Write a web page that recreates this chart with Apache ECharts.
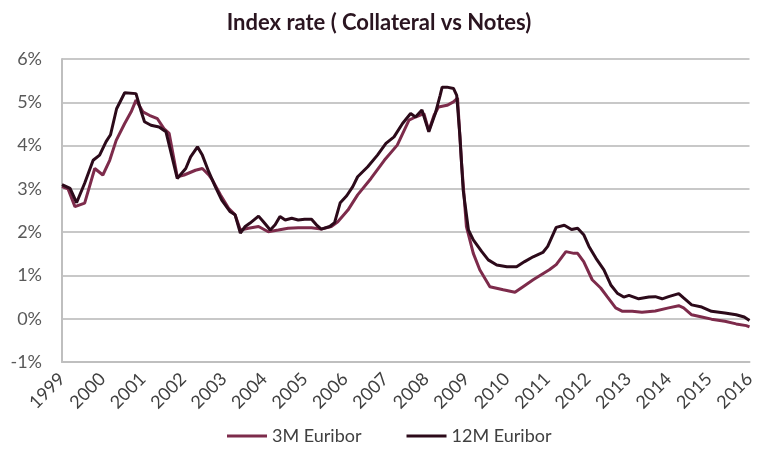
<!DOCTYPE html>
<html>
<head>
<meta charset="utf-8">
<script src="https://cdn.jsdelivr.net/npm/echarts@6/dist/echarts.min.js"></script>
<style>html,body{margin:0;padding:0;background:#fff}#c{width:758px;height:459px}</style>
</head>
<body>
<div id="c"></div>
<script>
var yearTicks = [1999,2000,2001,2002,2003,2004,2005,2006,2007,2008,2009,2010,2011,2012,2013,2014,2015,2016];
var seriesNames = ['3M Euribor', '12M Euribor'];

var t12 = [1999.00,1999.20,1999.36,1999.56,1999.77,1999.93,2000.09,2000.20,2000.35,2000.55,2000.83,2000.96,2001.04,2001.20,2001.40,2001.57,2001.85,2002.06,2002.18,2002.35,2002.47,2002.63,2002.79,2002.95,2003.16,2003.28,2003.41,2003.53,2003.65,2003.86,2003.98,2004.15,2004.27,2004.39,2004.52,2004.68,2004.84,2005.00,2005.17,2005.29,2005.41,2005.62,2005.74,2005.88,2006.04,2006.19,2006.31,2006.56,2006.80,2007.01,2007.21,2007.42,2007.62,2007.74,2007.90,2008.07,2008.23,2008.35,2008.40,2008.52,2008.68,2008.76,2008.84,2008.92,2009.05,2009.17,2009.38,2009.54,2009.75,2010.00,2010.24,2010.44,2010.65,2010.89,2011.01,2011.22,2011.42,2011.60,2011.75,2011.90,2012.03,2012.20,2012.40,2012.57,2012.73,2012.89,2013.02,2013.26,2013.51,2013.67,2013.84,2014.00,2014.25,2014.37,2014.57,2014.82,2015.06,2015.39,2015.67,2015.87,2016.00];
var v12 = [3.10,3.01,2.68,3.13,3.66,3.78,4.09,4.25,4.85,5.22,5.20,4.78,4.55,4.47,4.43,4.32,3.24,3.47,3.74,3.97,3.78,3.39,3.05,2.74,2.47,2.40,1.98,2.13,2.21,2.37,2.24,2.05,2.17,2.36,2.28,2.32,2.28,2.30,2.30,2.17,2.07,2.13,2.22,2.68,2.84,3.05,3.28,3.51,3.78,4.05,4.20,4.51,4.74,4.66,4.82,4.32,4.74,5.16,5.35,5.35,5.32,5.16,4.20,2.97,2.05,1.82,1.55,1.36,1.24,1.20,1.20,1.32,1.43,1.53,1.67,2.11,2.16,2.06,2.09,1.94,1.67,1.40,1.13,0.78,0.59,0.50,0.54,0.46,0.50,0.51,0.46,0.51,0.58,0.48,0.32,0.27,0.17,0.13,0.09,0.04,-0.04];

var t3 = [1999.00,1999.15,1999.32,1999.56,1999.81,2000.01,2000.18,2000.34,2000.55,2000.71,2000.83,2001.00,2001.16,2001.36,2001.52,2001.65,2001.85,2002.02,2002.30,2002.47,2002.63,2002.72,2002.92,2003.12,2003.28,2003.41,2003.61,2003.86,2004.10,2004.35,2004.59,2004.84,2005.17,2005.41,2005.66,2005.82,2006.07,2006.31,2006.64,2006.97,2007.29,2007.58,2007.74,2007.95,2008.07,2008.20,2008.31,2008.52,2008.68,2008.78,2008.88,2009.00,2009.17,2009.33,2009.58,2009.91,2010.20,2010.40,2010.65,2010.89,2011.05,2011.22,2011.46,2011.66,2011.75,2011.90,2012.11,2012.32,2012.48,2012.69,2012.86,2013.10,2013.34,2013.67,2014.00,2014.25,2014.37,2014.57,2014.82,2015.06,2015.39,2015.67,2015.92,2016.00];
var v3 = [3.05,3.00,2.59,2.67,3.47,3.32,3.66,4.12,4.51,4.78,5.05,4.78,4.70,4.62,4.39,4.28,3.28,3.32,3.43,3.47,3.32,3.20,2.86,2.55,2.40,2.05,2.09,2.13,2.01,2.05,2.09,2.10,2.10,2.07,2.13,2.24,2.51,2.86,3.24,3.66,4.01,4.59,4.66,4.74,4.34,4.70,4.89,4.93,5.01,5.10,3.59,2.13,1.51,1.13,0.74,0.67,0.61,0.74,0.90,1.04,1.13,1.25,1.55,1.51,1.51,1.32,0.90,0.71,0.51,0.25,0.17,0.17,0.15,0.18,0.25,0.30,0.25,0.09,0.04,-0.01,-0.06,-0.12,-0.16,-0.19];

function pairs(t, v) { return t.map(function (x, i) { return [x, v[i]]; }); }

var FONT = 'Lato, "Open Sans", sans-serif';
var chart = echarts.init(document.getElementById('c'), null, {renderer: 'canvas'});
chart.setOption({
  animation: false,
  backgroundColor: '#fff',
  title: {
    text: 'Index rate ( Collateral vs Notes)',
    left: 'center', top: 7,
    textStyle: {fontFamily: FONT, fontSize: 22, fontWeight: 'bold', color: '#2a1520'}
  },
  legend: {
    bottom: 9, left: 222,
    icon: 'rect', itemWidth: 40, itemHeight: 3, itemGap: 45,
    textStyle: {fontFamily: FONT, fontSize: 18, color: '#404040'},
    data: seriesNames
  },
  grid: {left: 62, right: 3, top: 59, bottom: 97, containLabel: false},
  xAxis: {
    type: 'value', min: yearTicks[0], max: yearTicks[yearTicks.length - 1], interval: 1,
    axisLine: {onZero: false, lineStyle: {color: '#bfbfbf', width: 2}},
    axisTick: {show: false},
    splitLine: {show: false},
    axisLabel: {rotate: 45, fontFamily: FONT, fontSize: 18, color: '#404040', margin: 14,
      formatter: function (v) { return String(v); }}
  },
  yAxis: {
    type: 'value', min: -1, max: 6, interval: 1,
    axisLine: {show: true, lineStyle: {color: '#bfbfbf', width: 2}},
    axisTick: {show: false},
    splitLine: {lineStyle: {color: '#c8c8c8', width: 2}},
    axisLabel: {fontFamily: FONT, fontSize: 18, color: '#595959', margin: 20,
      formatter: '{value}%'}
  },
  series: [
    {name: seriesNames[0], type: 'line', data: pairs(t3, v3), showSymbol: false,
      lineStyle: {color: '#7d2b4b', width: 3}, itemStyle: {color: '#7d2b4b'}, z: 2},
    {name: seriesNames[1], type: 'line', data: pairs(t12, v12), showSymbol: false,
      lineStyle: {color: '#2c0a1a', width: 3}, itemStyle: {color: '#2c0a1a'}, z: 3}
  ]
});
</script>
</body>
</html>
